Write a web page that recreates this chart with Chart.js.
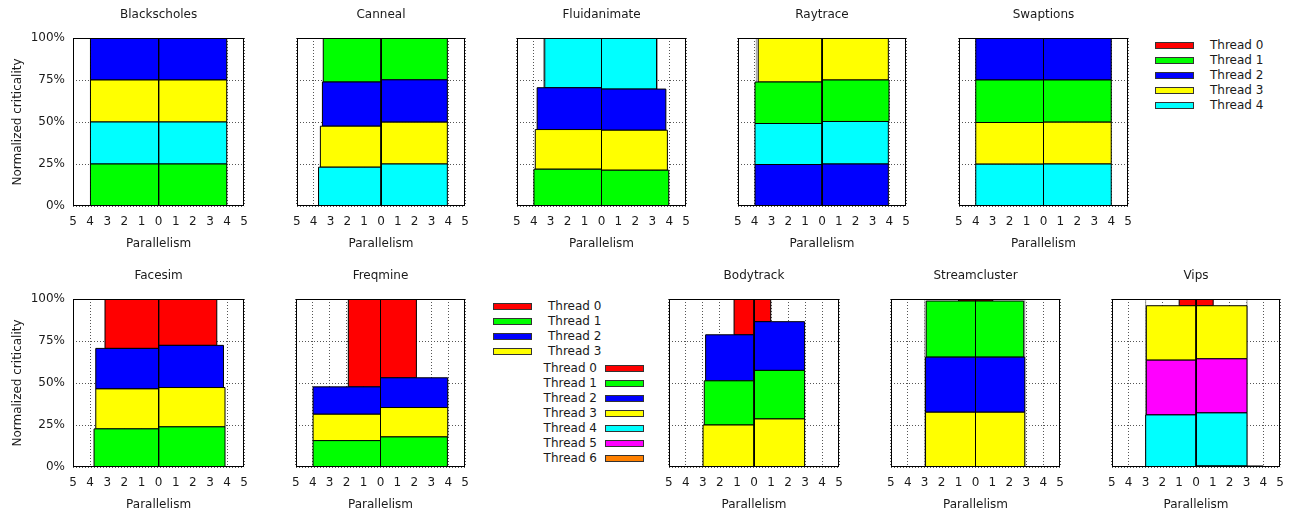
<!DOCTYPE html>
<html>
<head>
<meta charset="utf-8">
<script src="https://cdn.jsdelivr.net/npm/chart.js@4.4.1/dist/chart.umd.min.js"></script>
<style>
  html, body { margin: 0; padding: 0; background: #fff; overflow: hidden; }
  body { width: 1291px; height: 513px; position: relative; font-family: "DejaVu Sans", sans-serif; font-size: 12px; color: #1a1a1a; }
  canvas { position: absolute; }
  .lg { position: absolute; height: 15px; line-height: 15px; white-space: nowrap; }
  .sw { position: absolute; width: 37px; height: 5px; border: 1px solid #333; }
</style>
</head>
<body>
<script>
// data: criticality stacks per side, width = parallelism
const benchmarks = ['Blackscholes', 'Canneal', 'Fluidanimate', 'Raytrace', 'Swaptions',
                    'Facesim', 'Freqmine', 'Bodytrack', 'Streamcluster', 'Vips'];
const threadLabels = ['Thread 0', 'Thread 1', 'Thread 2', 'Thread 3', 'Thread 4', 'Thread 5', 'Thread 6'];
const threadColors = ['#ff0000', '#00ff00', '#0000ff', '#ffff00', '#00ffff', '#ff00ff', '#ff8000'];

// thread of each stacked segment, bottom to top
const stackThreads = [
  [1, 4, 3, 2], [4, 3, 2, 1], [1, 3, 2, 4], [2, 4, 1, 3], [4, 3, 1, 2],
  [1, 3, 2, 0], [1, 3, 2, 0], [3, 1, 2, 0], [3, 2, 1, 0], [6, 4, 5, 3, 0]
];
const leftWidth = [
  [3.98, 3.98, 3.98, 3.98], [3.71, 3.6, 3.48, 3.43], [3.99, 3.91, 3.8, 3.35], [3.98, 3.98, 3.98, 3.79], [4, 4, 4, 4],
  [3.77, 3.67, 3.67, 3.13], [3.98, 3.98, 3.98, 1.9], [2.99, 2.92, 2.84, 1.17], [2.95, 2.95, 2.91, 1.0], [0, 2.99, 2.95, 2.95, 1.0]
];
const leftTop = [
  [25, 50, 75, 100], [23.1, 47.5, 73.8, 100], [21.9, 45.5, 70.4, 100], [24.7, 49.1, 73.8, 100], [24.9, 49.7, 75, 100],
  [22.7, 46.5, 70.6, 100], [15.7, 31.4, 47.7, 100], [25, 51.3, 78.7, 100], [32.6, 65.4, 98.8, 100], [0, 31.0, 63.6, 96.0, 100]
];
const rightWidth = [
  [3.98, 3.98, 3.98, 3.98], [3.94, 3.94, 3.94, 3.94], [3.97, 3.89, 3.8, 3.25], [3.94, 3.94, 3.98, 3.94], [4, 4, 4, 4],
  [3.88, 3.88, 3.79, 3.4], [3.95, 3.97, 3.97, 2.12], [2.97, 2.97, 2.97, 0.98], [2.91, 2.91, 2.85, 1.02], [4.0, 3.03, 3.03, 3.03, 1.02]
];
const rightTop = [
  [25, 50, 75, 100], [25, 49.9, 75.1, 100], [21.3, 45.1, 69.6, 100], [25, 50.3, 75, 100], [25, 49.9, 75, 100],
  [23.9, 47.3, 72.4, 100], [17.9, 35.4, 53.1, 100], [28.6, 57.5, 86.5, 100], [32.6, 65.4, 98.8, 100], [0.6, 32.2, 64.4, 96.0, 100]
];
// unfilled outline box behind some stacks [left, right]
const outlineWidth = [null, null, [3.42, 3.3], [3.9, null], null, null, null, null, [2.99, 2.91], [2.99, 3.03]];

const xTickValues = [-5, -4, -3, -2, -1, 0, 1, 2, 3, 4, 5];
const xTickLabels = ['5', '4', '3', '2', '1', '0', '1', '2', '3', '4', '5'];
const yTickValues = [0, 25, 50, 75, 100];
const yTickLabels = ['0%', '25%', '50%', '75%', '100%'];

// layout: plot area left / width, row
const plotLeft = [73, 292, 512, 733, 954, 73, 291, 664, 886, 1107];
const plotWidth = [174, 176, 177, 176, 177, 174, 177, 178, 177, 176];
const rowTop = [0, 261];

Chart.defaults.font.family = '"DejaVu Sans", sans-serif';
Chart.defaults.font.size = 12;
Chart.defaults.color = '#1a1a1a';

const framePlugin = {
  id: 'frame',
  afterDraw(chart) {
    const a = chart.chartArea, ctx = chart.ctx;
    ctx.save();
    ctx.strokeStyle = '#000';
    ctx.lineWidth = 1;
    ctx.strokeRect(Math.round(a.left) + 0.5, Math.round(a.top) + 0.5,
                   Math.round(a.right) - Math.round(a.left) - 1, Math.round(a.bottom) - Math.round(a.top) - 1);
    ctx.restore();
  }
};

function rect(x0, x1, y0, y1) {
  return [{x: x0, y: y0}, {x: x1, y: y0}, {x: x1, y: y1}, {x: x0, y: y1}, {x: x0, y: y0}];
}

// chart.js paints the last dataset first, so outlines go at the end (underneath)
function buildDatasets(p) {
  const outlines = [];
  const stacks = [];
  [-1, 1].forEach((s, side) => {
    const widths = s < 0 ? leftWidth[p] : rightWidth[p];
    const tops = s < 0 ? leftTop[p] : rightTop[p];
    const ow = outlineWidth[p] && outlineWidth[p][side];
    if (ow) {
      outlines.push({
        data: rect(0, s * ow, 0, 100),
        borderColor: '#9a9a9a', borderWidth: 1, fill: false,
        pointRadius: 0, tension: 0
      });
    }
    stackThreads[p].forEach((t, i) => {
      const lo = i === 0 ? 0 : tops[i - 1];
      const hi = tops[i];
      if (hi <= lo || widths[i] <= 0) return;
      stacks.push({
        label: threadLabels[t],
        data: rect(0, s * widths[i], lo, hi),
        backgroundColor: threadColors[t],
        borderColor: '#000', borderWidth: 1,
        fill: 'shape', pointRadius: 0, tension: 0,
        borderJoinStyle: 'miter'
      });
    });
  });
  return stacks.concat(outlines);
}

benchmarks.forEach((name, p) => {
  const col = p % 5;
  const row = Math.floor(p / 5);
  const yW = col === 0 ? 73 : 8;
  const canvas = document.createElement('canvas');
  const w = yW + plotWidth[p] + 10;
  canvas.width = w;
  canvas.height = 256;
  canvas.style.left = (plotLeft[p] - yW) + 'px';
  canvas.style.top = rowTop[row] + 'px';
  canvas.style.width = w + 'px';
  canvas.style.height = '256px';
  document.body.appendChild(canvas);

  new Chart(canvas, {
    type: 'line',
    data: { datasets: buildDatasets(p) },
    options: {
      responsive: false,
      animation: false,
      devicePixelRatio: 1,
      events: [],
      layout: { padding: { left: 0, right: 10, top: 0, bottom: 0 } },
      plugins: {
        legend: { display: false },
        tooltip: { enabled: false },
        title: {
          display: true, text: name, fullSize: false,
          font: { size: 12, weight: 'normal' },
          padding: { top: 8, bottom: 15.6 }
        }
      },
      scales: {
        x: {
          type: 'linear', min: -5, max: 5,
          afterFit: s => { s.height = 50; },
          afterBuildTicks: s => { s.ticks = xTickValues.map(v => ({ value: v })); },
          ticks: {
            autoSkip: false, maxRotation: 0, padding: 9,
            callback: v => xTickLabels[xTickValues.indexOf(v)]
          },
          grid: { color: '#555', drawTicks: false, lineWidth: 1 },
          border: { display: false, dash: [1, 2] },
          title: { display: true, text: 'Parallelism', padding: { top: 0, bottom: 5 } }
        },
        y: {
          type: 'linear', min: 0, max: 100,
          afterFit: s => { s.width = yW; },
          afterBuildTicks: s => { s.ticks = yTickValues.map(v => ({ value: v })); },
          ticks: {
            display: col === 0, padding: 8,
            callback: v => yTickLabels[yTickValues.indexOf(v)]
          },
          grid: { color: '#555', drawTicks: false, lineWidth: 1 },
          border: { display: false, dash: [1, 2] },
          title: { display: col === 0, text: 'Normalized criticality', padding: { top: 11, bottom: 0 } }
        }
      }
    },
    plugins: [framePlugin]
  });
});

// legends
function legendEntry(t, swLeft, textX, cy, textRight) {
  const sw = document.createElement('div');
  sw.className = 'sw';
  sw.style.left = swLeft + 'px';
  sw.style.top = (cy - 3.5) + 'px';
  sw.style.background = threadColors[t];
  document.body.appendChild(sw);
  const lab = document.createElement('div');
  lab.className = 'lg';
  lab.textContent = threadLabels[t];
  lab.style.top = (cy - 7.5) + 'px';
  if (textRight) {
    lab.style.right = (1291 - textX) + 'px';
  } else {
    lab.style.left = textX + 'px';
  }
  document.body.appendChild(lab);
}

[0, 1, 2, 3, 4].forEach((t, i) => legendEntry(t, 1155, 1210, 45 + i * 15, false));
[0, 1, 2, 3].forEach((t, i) => legendEntry(t, 493, 548, 306 + i * 15, false));
[0, 1, 2, 3, 4, 5, 6].forEach((t, i) => legendEntry(t, 605, 597, 368.5 + i * 15, true));
</script>
</body>
</html>
